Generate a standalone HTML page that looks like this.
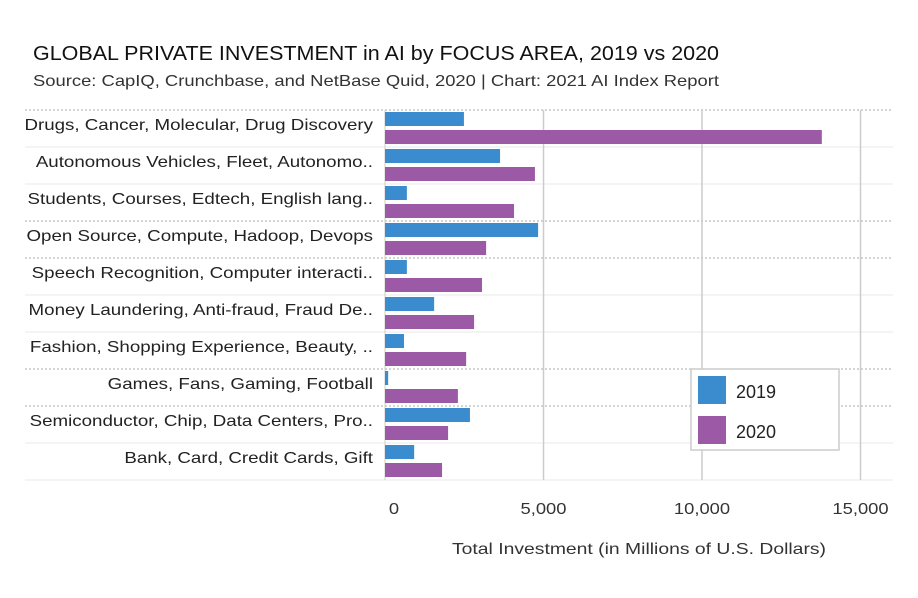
<!DOCTYPE html>
<html><head><meta charset="utf-8"><style>
body{margin:0;background:#fff;}
svg{display:block;font-family:"Liberation Sans",sans-serif;}
</style></head><body>
<svg id="chart" width="918" height="598">
<text x="33" y="60" font-size="20" fill="#111" textLength="686" lengthAdjust="spacingAndGlyphs">GLOBAL PRIVATE INVESTMENT in AI by FOCUS AREA, 2019 vs 2020</text>
<text x="33" y="86" font-size="16" fill="#333" textLength="686" lengthAdjust="spacingAndGlyphs">Source: CapIQ, Crunchbase, and NetBase Quid, 2020 | Chart: 2021 AI Index Report</text>
<g id="grid"></g><g id="bars"></g><g id="labels"></g><g id="ticks"></g>
<text x="452" y="554" font-size="16" fill="#333" textLength="374" lengthAdjust="spacingAndGlyphs">Total Investment (in Millions of U.S. Dollars)</text>
<g>
<rect x="691" y="369" width="148" height="81" fill="#fff" stroke="#ccc" stroke-width="1.5"/>
<rect x="698" y="376" width="28" height="28" fill="#3a8ccf"/>
<text x="736" y="398" font-size="18" fill="#222">2019</text>
<rect x="698" y="416" width="28" height="28" fill="#9c5aa6"/>
<text x="736" y="438" font-size="18" fill="#222">2020</text>
</g>
</svg>
<script>
const categories=["Drugs, Cancer, Molecular, Drug Discovery","Autonomous Vehicles, Fleet, Autonomo..","Students, Courses, Edtech, English lang..","Open Source, Compute, Hadoop, Devops","Speech Recognition, Computer interacti..","Money Laundering, Anti-fraud, Fraud De..","Fashion, Shopping Experience, Beauty, ..","Games, Fans, Gaming, Football","Semiconductor, Chip, Data Centers, Pro..","Bank, Card, Credit Cards, Gift"];
const values2019=[2490,3630,690,4830,690,1550,600,100,2680,920];
const values2020=[13780,4730,4070,3190,3060,2810,2560,2300,1990,1800];
const tickValues=[0,5000,10000,15000];
const tickLabels=["0","5,000","10,000","15,000"];
const NS="http://www.w3.org/2000/svg";
const x0=385,pxPer=31.7/1000,top0=110,rowH=37,right=893;
const X=v=>x0+v*pxPer;
const Y=i=>top0+i*rowH;
function mk(tag,attrs,parent){const e=document.createElementNS(NS,tag);for(const k in attrs)e.setAttribute(k,attrs[k]);document.getElementById(parent).appendChild(e);return e;}
function stretch(t,f){const w=t.getComputedTextLength();t.setAttribute('textLength',w*f);t.setAttribute('lengthAdjust','spacingAndGlyphs');}
const dotted=[0,3,4,7,8];
for(let i=0;i<=categories.length;i++){
  const l=mk('line',{x1:25,x2:right,y1:Y(i),y2:Y(i),stroke:dotted.includes(i)?'#aaa':'#f0f0f0','stroke-width':dotted.includes(i)?1:1.5,'stroke-dasharray':dotted.includes(i)?'2,2':''},'grid');
  
  
}
tickValues.forEach((t,j)=>{
  if(j>0){const g=mk('line',{x1:X(t),x2:X(t),y1:top0,y2:Y(categories.length),stroke:'#ccc','stroke-width':1.5},'grid');
  
  }
  const tx=mk('text',{x:X(t)+(j==0?9:0),y:514,'font-size':16,fill:'#333','text-anchor':'middle'},'ticks');
  tx.textContent=tickLabels[j];
  
  
  stretch(tx,1.15);
});
const ax=mk('line',{x1:x0,x2:x0,y1:top0,y2:Y(categories.length),stroke:'#ccc','stroke-width':1},'grid');


categories.forEach((c,i)=>{
  const t=mk('text',{x:373,y:Y(i)+20,'font-size':16,fill:'#222','text-anchor':'end'},'labels');
  t.textContent=c;
  
  
  stretch(t,1.17);
  const b1=mk('rect',{x:x0,y:Y(i)+2,width:X(values2019[i])-x0,height:14,fill:'#3a8ccf'},'bars');
  
  
  const b2=mk('rect',{x:x0,y:Y(i)+20,width:X(values2020[i])-x0,height:14,fill:'#9c5aa6'},'bars');
  
  
});
</script>
</body></html>
